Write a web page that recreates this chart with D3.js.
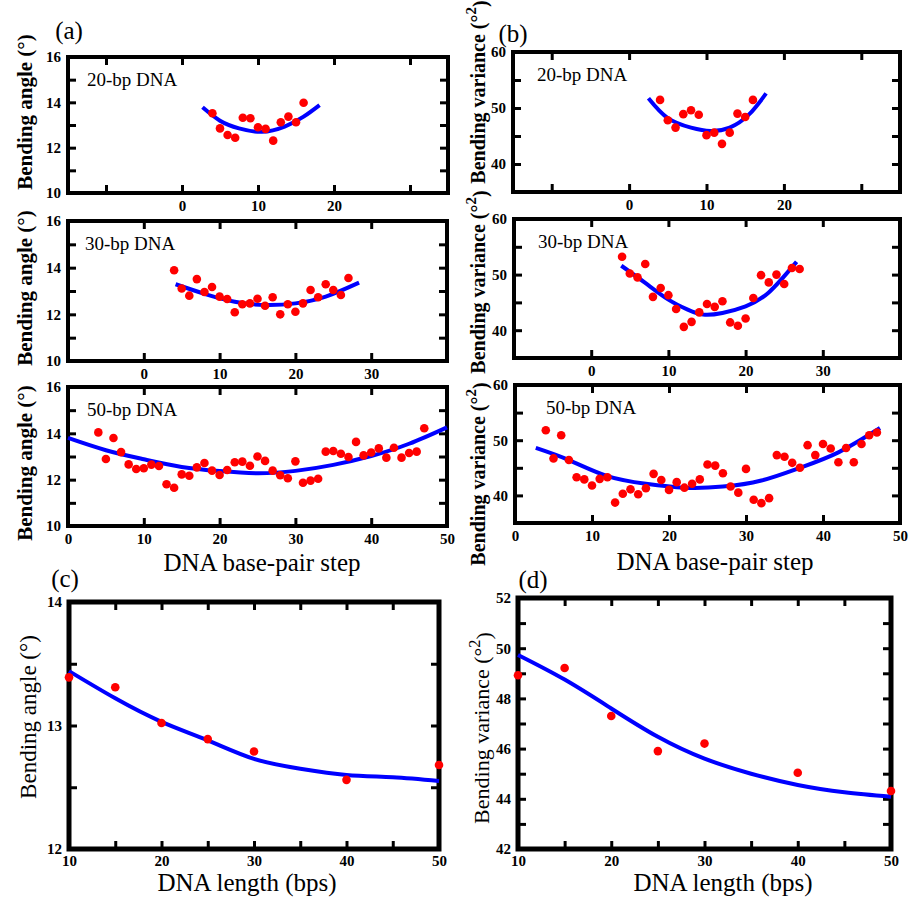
<!DOCTYPE html>
<html>
<head>
<meta charset="utf-8">
<script src="https://cdn.jsdelivr.net/npm/d3@7"></script>
<style>
  body { margin: 0; background: #fff; }
  svg text { font-family: "Liberation Serif", "Times New Roman", serif; }
</style>
</head>
<body>
<div id="chart"></div>
<script>
// ---- data ----
// (a) bending angle per base-pair step
const steps20 = d3.range(4, 17);
const angle20 = [13.52, 12.85, 12.56, 12.44, 13.32, 13.30, 12.90, 12.83, 12.31, 13.12, 13.37, 13.12, 13.98];
const fitStep20 = [2.7, 5, 7.5, 10.5, 13.5, 16, 18.1];
const fitAngle20 = [13.78, 13.19, 12.85, 12.70, 12.93, 13.37, 13.88];

const steps30 = d3.range(4, 28);
const angle30 = [13.89, 13.11, 12.80, 13.51, 12.96, 13.17, 12.76, 12.66, 12.09, 12.43, 12.47, 12.67,
                 12.37, 12.73, 12.00, 12.43, 12.11, 12.47, 13.04, 12.73, 13.29, 13.04, 12.83, 13.56];
const fitStep30 = [4.2, 8, 12, 16, 20, 24, 28.4];
const fitAngle30 = [13.29, 12.88, 12.54, 12.40, 12.47, 12.76, 13.36];

const steps50 = d3.range(4, 48);
const angle50 = [14.04, 12.89, 13.80, 13.19, 12.66, 12.46, 12.49, 12.65, 12.59, 11.80, 11.65, 12.23,
                 12.17, 12.53, 12.72, 12.39, 12.20, 12.42, 12.75, 12.78, 12.60, 13.00, 12.81, 12.39,
                 12.19, 12.06, 12.79, 11.87, 11.96, 12.04, 13.21, 13.24, 13.12, 12.98, 13.63, 13.05,
                 13.17, 13.35, 12.95, 13.38, 12.95, 13.15, 13.21, 14.22];
const fitStep50 = [0, 5, 10, 15, 20, 25, 30, 35, 40, 45, 50];
const fitAngle50 = [13.80, 13.27, 12.88, 12.55, 12.37, 12.28, 12.38, 12.64, 13.02, 13.55, 14.26];

// (b) bending variance per base-pair step
const var20 = [51.45, 47.8, 46.5, 48.9, 49.6, 48.8, 45.15, 45.6, 43.6, 45.6, 49.0, 48.4, 51.45];
const fitStepV20 = [2.5, 5, 8, 10.5, 13, 15.5, 17.7];
const fitVar20 = [51.75, 48.2, 46.5, 45.9, 46.5, 48.85, 52.6];

const var30 = [53.2, 50.2, 49.5, 51.9, 46.0, 47.6, 46.3, 43.8, 40.6, 41.5, 43.2, 44.7,
               44.2, 45.2, 41.4, 40.8, 42.1, 45.8, 49.9, 48.6, 50.0, 48.3, 51.2, 51.0];
const fitStepV30 = [3.9, 7, 10, 12.5, 14.5, 17, 20, 23, 26.6];
const fitVar30 = [51.6, 48.5, 45.5, 43.7, 42.8, 43.1, 44.3, 46.8, 52.3];

const var50 = [51.8, 46.7, 50.9, 46.4, 43.3, 42.9, 41.8, 43.0, 43.3, 38.7, 40.3, 41.1,
               40.2, 41.3, 43.9, 42.8, 41.0, 42.4, 41.4, 42.1, 42.9, 45.6, 45.4, 44.0,
               41.6, 40.5, 44.8, 39.2, 38.6, 39.5, 47.3, 47.0, 45.9, 45.0, 49.1, 47.3,
               49.3, 48.5, 46.0, 48.6, 46.0, 49.3, 50.9, 51.4];
const fitStepV50 = [2.7, 7, 12, 17, 22, 27, 32, 37, 42, 47.4];
const fitVar50 = [48.6, 46.4, 43.5, 42.1, 41.4, 41.6, 42.7, 45.0, 47.8, 52.2];

// (c), (d) averages vs DNA length
const lengths = [10, 15, 20, 25, 30, 40, 50];
const meanAngle = [13.39, 13.31, 13.02, 12.89, 12.79, 12.56, 12.68];
const meanVar = [48.92, 49.21, 47.30, 45.90, 46.20, 45.04, 44.31];
const fitLengths = [10, 15, 20, 25, 30, 35, 40, 45, 50];
const fitMeanAngle = [13.44, 13.22, 13.03, 12.88, 12.73, 12.65, 12.60, 12.58, 12.55];
const fitMeanVar = [49.73, 48.75, 47.60, 46.47, 45.60, 45.00, 44.55, 44.26, 44.08];

// ticks
const stepTicksShort = [-10, 0, 10, 20, 30];
const stepLabelsShort = [0, 10, 20];
const stepTicksMid = [0, 10, 20, 30];
const stepLabelsMid = [0, 10, 20, 30];
const stepTicksLong = [10, 20, 30, 40];
const stepLabelsLong = [0, 10, 20, 30, 40, 50];
const angleTicks = [10, 11, 12, 13, 14, 15, 16];
const angleLabels = [10, 12, 14, 16];
const varTicks = [35, 40, 45, 50, 55, 60];
const varLabels = [40, 50, 60];
const lengthTicks = [10, 15, 20, 25, 30, 35, 40, 45, 50];
const lengthLabels = [10, 20, 30, 40, 50];
const meanAngleTicks = [12, 12.5, 13, 13.5, 14];
const meanAngleLabels = [12, 13, 14];
const meanVarTicks = [42, 43, 44, 45, 46, 47, 48, 49, 50, 51, 52];
const meanVarLabels = [42, 44, 46, 48, 50, 52];

const SERIF = '"Liberation Serif", "Times New Roman", serif';
const BLUE = '#0000ff';
const RED = '#ff0000';

const svg = d3.select('#chart').append('svg')
    .attr('width', 911)
    .attr('height', 899);

function drawPanel(root, p) {
    let g = root.append('g').attr('transform', 'translate(' + p.box.x + ',' + p.box.y + ')');
    let x = d3.scaleLinear().domain(p.xDomain).range([0, p.box.w]);
    let y = d3.scaleLinear().domain(p.yDomain).range([p.box.h, 0]);

    // inward tick marks on all four sides
    let sides = [
        [d3.axisBottom(x).tickValues(p.xTicks), 'translate(0,' + p.box.h + ')'],
        [d3.axisTop(x).tickValues(p.xTicks), 'translate(0,0)'],
        [d3.axisLeft(y).tickValues(p.yTicks), 'translate(0,0)'],
        [d3.axisRight(y).tickValues(p.yTicks), 'translate(' + p.box.w + ',0)']
    ];
    sides.forEach(([ax, tr]) => {
        let a = g.append('g').attr('transform', tr).call(ax.tickSize(-8).tickFormat(''));
        a.select('.domain').remove();
        a.selectAll('line').attr('stroke-width', 3);
    });

    g.append('rect')
        .attr('width', p.box.w)
        .attr('height', p.box.h)
        .attr('fill', 'none')
        .attr('stroke', '#000')
        .attr('stroke-width', p.frame);

    let line = d3.line()
        .x(d => x(d[0]))
        .y(d => y(d[1]))
        .curve(d3.curveNatural);
    g.append('path')
        .attr('d', line(d3.zip(p.fitX, p.fitY)))
        .attr('fill', 'none')
        .attr('stroke', BLUE)
        .attr('stroke-width', 4);

    g.append('g').selectAll('circle')
        .data(d3.zip(p.ptX, p.ptY))
        .enter()
        .append('circle')
        .attr('cx', d => x(d[0]))
        .attr('cy', d => y(d[1]))
        .attr('r', 4.3)
        .attr('fill', RED);

    // tick labels
    let fmt = d3.format('d');
    let bx = g.append('g').attr('transform', 'translate(0,' + p.box.h + ')')
        .call(d3.axisBottom(x).tickValues(p.xLabels).tickFormat(fmt).tickSize(0).tickPadding(p.padX || 7));
    let ly = g.append('g')
        .call(d3.axisLeft(y).tickValues(p.yLabels).tickFormat(fmt).tickSize(0).tickPadding(7));
    [bx, ly].forEach(a => {
        a.select('.domain').remove();
        a.attr('font-family', SERIF).attr('font-size', 15).attr('font-weight', 'bold');
    });

    if (p.tag) {
        g.append('text')
            .attr('x', p.tagDx)
            .attr('y', 29)
            .attr('font-size', 19)
            .text(p.tag);
    }
}

function yTitle(root, cx, cy, text, size, weight, squared) {
    let t = root.append('text')
        .attr('transform', 'translate(' + cx + ',' + cy + ') rotate(-90)')
        .attr('text-anchor', 'middle')
        .attr('dominant-baseline', 'central')
        .attr('font-size', size)
        .attr('font-weight', weight)
        .text(text);
    if (squared) {
        t.append('tspan').attr('dy', '-0.45em').attr('font-size', size * 0.75).text('2');
        t.append('tspan').attr('dy', '0.45em').text(')');
    }
}

function label(root, x, y, text, size) {
    root.append('text')
        .attr('x', x)
        .attr('y', y)
        .attr('font-size', size)
        .attr('text-anchor', 'middle')
        .text(text);
}

// (a)
drawPanel(svg, {box: {x: 68, y: 57, w: 380, h: 136}, frame: 4,
    xDomain: [-15, 35], yDomain: [10, 16], xTicks: stepTicksShort, xLabels: stepLabelsShort,
    yTicks: angleTicks, yLabels: angleLabels, ptX: steps20, ptY: angle20,
    fitX: fitStep20, fitY: fitAngle20, tag: '20-bp DNA', tagDx: 19});
drawPanel(svg, {box: {x: 68, y: 221, w: 379, h: 140}, frame: 4,
    xDomain: [-10, 40], yDomain: [10, 16], xTicks: stepTicksMid, xLabels: stepLabelsMid,
    yTicks: angleTicks, yLabels: angleLabels, ptX: steps30, ptY: angle30,
    fitX: fitStep30, fitY: fitAngle30, tag: '30-bp DNA', tagDx: 17});
drawPanel(svg, {box: {x: 68, y: 387, w: 379, h: 139}, frame: 4,
    xDomain: [0, 50], yDomain: [10, 16], xTicks: stepTicksLong, xLabels: stepLabelsLong,
    yTicks: angleTicks, yLabels: angleLabels, ptX: steps50, ptY: angle50,
    fitX: fitStep50, fitY: fitAngle50, tag: '50-bp DNA', tagDx: 19});

// (b)
drawPanel(svg, {box: {x: 513, y: 52, w: 387, h: 140}, frame: 4,
    xDomain: [-15, 35], yDomain: [35, 60], xTicks: stepTicksShort, xLabels: stepLabelsShort,
    yTicks: varTicks, yLabels: varLabels, ptX: steps20, ptY: var20,
    fitX: fitStepV20, fitY: fitVar20, tag: '20-bp DNA', tagDx: 24});
drawPanel(svg, {box: {x: 514, y: 219, w: 386, h: 139}, frame: 4,
    xDomain: [-10, 40], yDomain: [35, 60], xTicks: stepTicksMid, xLabels: stepLabelsMid,
    yTicks: varTicks, yLabels: varLabels, ptX: steps30, ptY: var30,
    fitX: fitStepV30, fitY: fitVar30, tag: '30-bp DNA', tagDx: 24});
drawPanel(svg, {box: {x: 515, y: 385, w: 385, h: 138}, frame: 4,
    xDomain: [0, 50], yDomain: [35, 60], xTicks: stepTicksLong, xLabels: stepLabelsLong,
    yTicks: varTicks, yLabels: varLabels, ptX: steps50, ptY: var50,
    fitX: fitStepV50, fitY: fitVar50, tag: '50-bp DNA', tagDx: 31});

// (c), (d)
drawPanel(svg, {box: {x: 69, y: 602, w: 370, h: 247}, frame: 5, padX: 6,
    xDomain: [10, 50], yDomain: [12, 14], xTicks: lengthTicks, xLabels: lengthLabels,
    yTicks: meanAngleTicks, yLabels: meanAngleLabels, ptX: lengths, ptY: meanAngle,
    fitX: fitLengths, fitY: fitMeanAngle});
drawPanel(svg, {box: {x: 518, y: 598, w: 373, h: 251}, frame: 5, padX: 6,
    xDomain: [10, 50], yDomain: [42, 52], xTicks: lengthTicks, xLabels: lengthLabels,
    yTicks: meanVarTicks, yLabels: meanVarLabels, ptX: lengths, ptY: meanVar,
    fitX: fitLengths, fitY: fitMeanVar});

// axis titles
yTitle(svg, 25, 112, 'Bending angle (°)', 21, 'bold');
yTitle(svg, 25, 288, 'Bending angle (°)', 21, 'bold');
yTitle(svg, 25, 463, 'Bending angle (°)', 21, 'bold');
yTitle(svg, 478, 92, 'Bending variance (°', 20, 'bold', true);
yTitle(svg, 478, 282, 'Bending variance (°', 20, 'bold', true);
yTitle(svg, 478, 474, 'Bending variance (°', 20, 'bold', true);
yTitle(svg, 28, 717, 'Bending angle (°)', 23, 'normal');
yTitle(svg, 481, 728, 'Bending variance (°', 22, 'normal', true);

label(svg, 262, 571, 'DNA base-pair step', 25);
label(svg, 715, 570, 'DNA base-pair step', 25);
label(svg, 247, 891, 'DNA length (bps)', 25);
label(svg, 723, 891, 'DNA length (bps)', 25);

// panel letters
label(svg, 69, 39, '(a)', 25);
label(svg, 513, 42, '(b)', 25);
label(svg, 65, 587, '(c)', 25);
label(svg, 533, 588, '(d)', 25);
</script>
</body>
</html>
